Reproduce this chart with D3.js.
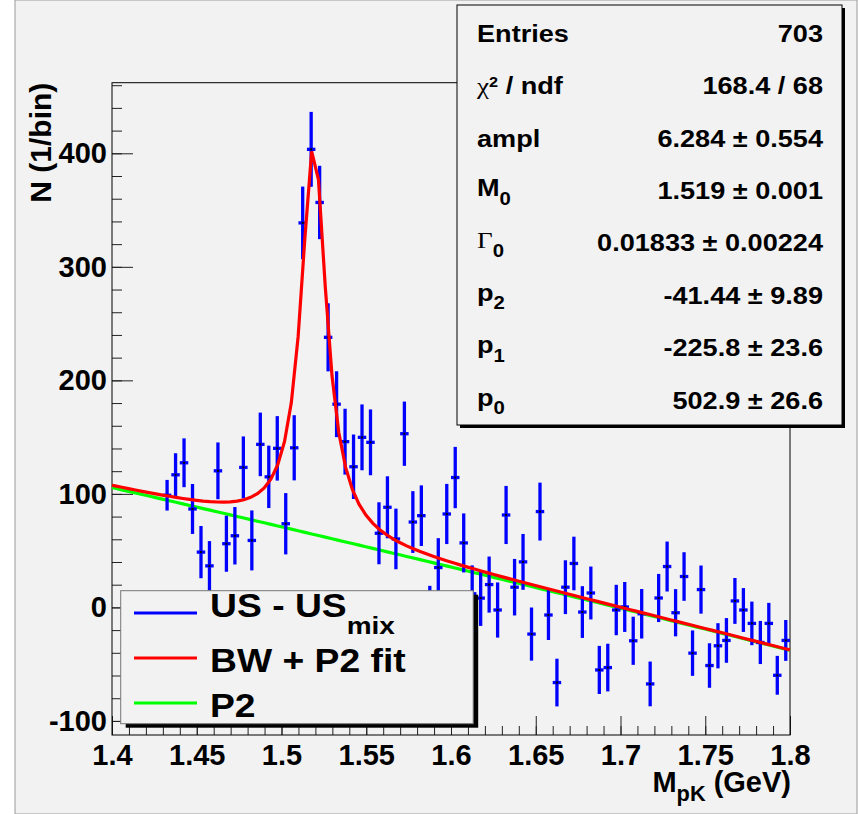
<!DOCTYPE html>
<html>
<head>
<meta charset="utf-8">
<script src="https://cdn.jsdelivr.net/npm/d3@7"></script>
<style>
    body { margin: 0; background: #fff; }
    svg { display: block; }
    text { font-family: "Liberation Sans", Arial, Helvetica, sans-serif; font-weight: bold; fill: #000; }
</style>
</head>
<body>
<div id="chart"></div>
<script>
// bin centres (GeV) and contents of the US - US_mix histogram
const mass = [
    1.4325, 1.4375, 1.4425, 1.4475, 1.4525, 1.4575, 1.4625, 1.4675, 1.4725, 1.4775,
    1.4825, 1.4875, 1.4925, 1.4975, 1.5025, 1.5075, 1.5125, 1.5175, 1.5225, 1.5275,
    1.5325, 1.5375, 1.5425, 1.5475, 1.5525, 1.5575, 1.5625, 1.5675, 1.5725, 1.5775,
    1.5825, 1.5875, 1.5925, 1.5975, 1.6025, 1.6075, 1.6125, 1.6175, 1.6225, 1.6275,
    1.6325, 1.6375, 1.6425, 1.6475, 1.6525, 1.6575, 1.6625, 1.6675, 1.6725, 1.6775,
    1.6825, 1.6875, 1.6925, 1.6975, 1.7025, 1.7075, 1.7125, 1.7175, 1.7225, 1.7275,
    1.7325, 1.7375, 1.7425, 1.7475, 1.7525, 1.7575, 1.7625, 1.7675, 1.7725, 1.7775,
    1.7825, 1.7875, 1.7925, 1.7975
];
const counts = [
    98.8, 116.8, 127.4, 86.7, 48.7, 36.6, 120.3, 56.1, 63.1, 123.3,
    59.0, 143.6, 115.0, 140.1, 73.7, 140.6, 338.7, 403.5, 356.7, 237.9,
    179.0, 146.0, 123.9, 149.8, 145.4, 65.3, 88.2, 60.3, 153.0, 75.2,
    80.8, -6.0, 35.1, 82.3, 114.4, 56.8, 12.0, 8.2, 20.1, -2.3,
    81.4, 17.8, 40.1, -23.5, 84.4, -6.7, -66.2, 17.8, 38.7, -4.1,
    12.7, -55.1, -53.0, -2.3, 0.4, -29.4, -5.6, -67.4, 8.3, 36.0,
    -4.7, 27.2, -40.3, 15.7, -51.2, -33.8, -29.1, 5.7, -2.3, -14.1,
    -30.9, -14.1, -59.8, -29.1
];
const errors = [
    13.5, 19.0, 21.5, 22.0, 23.0, 21.8, 25.0, 24.7, 25.3, 27.3,
    26.4, 28.0, 27.5, 28.4, 27.0, 28.7, 32.0, 33.0, 32.3, 30.0,
    29.0, 29.0, 28.4, 29.0, 29.0, 27.3, 27.3, 26.7, 28.3, 27.2,
    26.7, 25.0, 25.9, 26.5, 27.0, 26.0, 25.0, 24.5, 24.7, 24.3,
    25.6, 24.9, 24.6, 23.4, 25.5, 22.0, 21.0, 23.7, 23.6, 22.8,
    23.3, 21.2, 21.0, 22.2, 22.0, 21.2, 21.8, 19.7, 21.2, 22.0,
    20.8, 21.4, 20.0, 21.2, 19.6, 19.9, 19.7, 20.2, 19.3, 19.2,
    19.0, 18.1, 17.1, 18.0
];
const binWidth = 0.005;

// fit parameters (BW + P2), as printed in the stats box
const fitAmpl = 6.284, fitM0 = 1.519, fitGamma = 0.01833;
const fitP2 = -41.44, fitP1 = -225.8, fitP0 = 502.9;

const xTicks = [1.4, 1.45, 1.5, 1.55, 1.6, 1.65, 1.7, 1.75, 1.8];
const xTickLabels = ["1.4", "1.45", "1.5", "1.55", "1.6", "1.65", "1.7", "1.75", "1.8"];
const yTicks = [-100, 0, 100, 200, 300, 400];
const yTickLabels = ["-100", "0", "100", "200", "300", "400"];

const statNames = ["Entries", "χ^2 / ndf", "ampl", "M_0", "Γ_0", "p_2", "p_1", "p_0"];
const statValues = ["703", "168.4 / 68", "6.284 ± 0.554", "1.519 ± 0.001",
    "0.01833 ± 0.00224", "-41.44 ± 9.89", "-225.8 ± 23.6", "502.9 ± 26.6"];

const legendLabels = ["US - US_mix", "BW + P2 fit", "P2"];
const legendColors = ["#0000ff", "#ff0000", "#00ff00"];

const W = 858, H = 814;
const frame = {left: 112, right: 790, top: 82.7, bottom: 735};
const stretch = 1.13;

function background(x) {
    return fitP0 + fitP1 * x + fitP2 * x * x;
}

function breitWigner(x) {
    let dx = x - fitM0;
    return fitAmpl * (fitGamma / 4) / (dx * dx + fitGamma * fitGamma / 4);
}

// text with _sub and ^sup parts, greek letters in a serif face
function richText(sel, str, size, subDy) {
    let shift = 0;
    str.split(/([_^][^\s]+)/).filter(s => s.length).forEach(function (tok) {
        let t = sel.append("tspan");
        if (tok[0] === "_" || tok[0] === "^") {
            let d = tok[0] === "_" ? size * subDy : -size * 0.3;
            t.attr("dy", d - shift).style("font-size", (size * (tok[0] === "_" ? 0.75 : 0.6)) + "px")
                .text(tok.slice(1));
            shift = d;
        } else {
            t.attr("dy", -shift).style("font-size", size + "px").text(tok);
            shift = 0;
            if (/^[\u0391-\u03c9]$/.test(tok)) {
                t.style("font-family", "'Liberation Serif', 'Times New Roman', serif")
                    .style("font-weight", "normal");
            }
        }
    });
}

const x = d3.scaleLinear().domain([1.4, 1.8]).range([frame.left, frame.right]);
const y = d3.scaleLinear().domain([-112.4, 462.2]).range([frame.bottom, frame.top]);

const svg = d3.select("#chart").append("svg")
    .attr("width", W)
    .attr("height", H);

// canvas
svg.append("rect")
    .attr("x", 15).attr("y", 0)
    .attr("width", 842).attr("height", H)
    .attr("fill", "#f2f2f2")
    .attr("stroke", "#9a9a9a");

// axes, ticks drawn inside the frame
const yAxis = svg.append("g")
    .attr("transform", "translate(" + frame.left + ",0)")
    .call(d3.axisLeft(y).tickValues(yTicks).tickSizeInner(-21).tickSizeOuter(0).tickPadding(5)
        .tickFormat((d, i) => yTickLabels[i]));
svg.append("g")
    .attr("transform", "translate(" + frame.left + ",0)")
    .call(d3.axisLeft(y).tickValues(d3.range(-100, 461, 20)).tickSizeInner(-10).tickSizeOuter(0).tickFormat(""));

const xAxis = svg.append("g")
    .attr("transform", "translate(0," + frame.bottom + ")")
    .call(d3.axisBottom(x).tickValues(xTicks).tickSizeInner(-19).tickSizeOuter(0).tickPadding(9)
        .tickFormat((d, i) => xTickLabels[i]));
svg.append("g")
    .attr("transform", "translate(0," + frame.bottom + ")")
    .call(d3.axisBottom(x).tickValues(d3.range(0, 41).map(i => 1.4 + i * 0.01)).tickSizeInner(-9).tickSizeOuter(0).tickFormat(""));

svg.selectAll(".domain").remove();
svg.selectAll(".tick line").attr("stroke", "#222");
yAxis.selectAll("text").style("font-size", "29px").style("font-family", null);
xAxis.selectAll("text").style("font-size", "29px").style("font-family", null);

svg.append("rect")
    .attr("x", frame.left).attr("y", frame.top)
    .attr("width", frame.right - frame.left).attr("height", frame.bottom - frame.top)
    .attr("fill", "none")
    .attr("stroke", "#000");

// axis titles
svg.append("text")
    .attr("transform", "translate(51," + frame.top + ") rotate(-90)")
    .attr("text-anchor", "end")
    .style("font-size", "30px")
    .text("N (1/bin)");

let xTitle = svg.append("text")
    .attr("x", frame.right + 1).attr("y", 792)
    .attr("text-anchor", "end");
richText(xTitle, "M_pK (GeV)", 29, 0.3);

// P2 background and the fit, sampled like the original TF1 drawing
const samples = [1.4].concat(d3.range(0, 100).map(k => 1.4018 + k * 0.004), [1.8]);
const line = d3.line().x(d => x(d[0])).y(d => y(d[1]));

svg.append("path")
    .datum(samples.map(m => [m, background(m)]))
    .attr("d", line)
    .attr("fill", "none")
    .attr("stroke", legendColors[2])
    .attr("stroke-width", 3.2);

// histogram points with errors
const pts = svg.append("g").selectAll("g")
    .data(mass.map((m, i) => ({m: m, c: counts[i], e: errors[i]})))
    .enter().append("g");

pts.append("line")
    .attr("x1", d => x(d.m)).attr("x2", d => x(d.m))
    .attr("y1", d => y(d.c - d.e)).attr("y2", d => y(d.c + d.e))
    .attr("stroke", legendColors[0])
    .attr("stroke-width", 3.3);
pts.append("line")
    .attr("x1", d => x(d.m - binWidth / 2)).attr("x2", d => x(d.m + binWidth / 2))
    .attr("y1", d => y(d.c)).attr("y2", d => y(d.c))
    .attr("stroke", legendColors[0])
    .attr("stroke-width", 3.3);
pts.append("rect")
    .attr("x", d => x(d.m) - 1).attr("y", d => y(d.c) - 1)
    .attr("width", 2).attr("height", 2)
    .attr("fill", "#000");

svg.append("path")
    .datum(samples.map(m => [m, background(m) + breitWigner(m)]))
    .attr("d", line)
    .attr("fill", "none")
    .attr("stroke", legendColors[1])
    .attr("stroke-width", 3.2)
    .attr("stroke-linejoin", "miter");

// stats box
const stat = {left: 457, top: 5, width: 385, height: 420};
svg.append("rect")
    .attr("x", stat.left + 3).attr("y", stat.top + 3)
    .attr("width", stat.width).attr("height", stat.height)
    .attr("fill", "#000");
svg.append("rect")
    .attr("x", stat.left).attr("y", stat.top)
    .attr("width", stat.width).attr("height", stat.height)
    .attr("fill", "#f2f2f2")
    .attr("stroke", "#000");

statNames.forEach(function (name, i) {
    let base = stat.top + 36.7 + i * 52.4;
    let raise = name.indexOf("_") >= 0 ? 3 : 0;
    let t = svg.append("g")
        .attr("transform", "translate(" + (stat.left + 20) + "," + (base - raise) + ") scale(" + stretch + ",1)")
        .append("text");
    richText(t, name, 24, 0.36);
    svg.append("g")
        .attr("transform", "translate(" + (stat.left + stat.width - 19) + "," + base + ") scale(" + stretch + ",1)")
        .append("text")
        .attr("text-anchor", "end")
        .style("font-size", "24px")
        .text(statValues[i]);
});

// legend
const leg = {left: 120.7, top: 590.7, width: 352.5, height: 133};
svg.append("rect")
    .attr("x", leg.left + 5).attr("y", leg.top + 4)
    .attr("width", leg.width).attr("height", leg.height)
    .attr("fill", "#000");
svg.append("rect")
    .attr("x", leg.left).attr("y", leg.top)
    .attr("width", leg.width).attr("height", leg.height)
    .attr("fill", "#f2f2f2")
    .attr("stroke", "#777");

legendLabels.forEach(function (label, i) {
    let ly = leg.top + 22.3 + i * 45;
    svg.append("line")
        .attr("x1", leg.left + 13.3).attr("x2", leg.left + 76.3)
        .attr("y1", ly).attr("y2", ly)
        .attr("stroke", legendColors[i])
        .attr("stroke-width", 3.2);
    let base = ly + (label.indexOf("_") >= 0 ? 4 : 13.5);
    let t = svg.append("g")
        .attr("transform", "translate(" + (leg.left + 89.3) + "," + base + ") scale(" + stretch + ",1)")
        .append("text");
    richText(t, label, 33, 0.5);
});
</script>
</body>
</html>
